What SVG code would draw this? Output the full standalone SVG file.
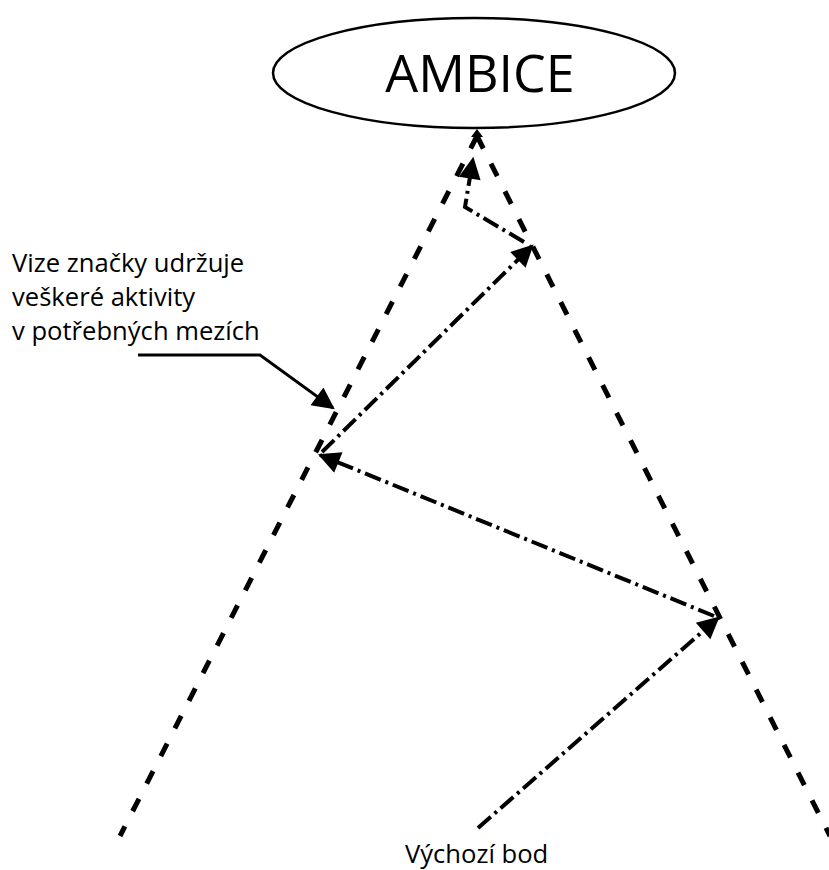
<svg xmlns="http://www.w3.org/2000/svg" width="829" height="870" viewBox="0 0 829 870">
<style>
.lbl{font-family:"Open Sans","Noto Sans","Liberation Sans",sans-serif;fill:#000;}
.bound{fill:none;stroke:#000;stroke-width:5;stroke-dasharray:14 17;}
.path{fill:none;stroke:#000;stroke-width:4;stroke-dasharray:17 5 3 5;}
.note{fill:none;stroke:#000;stroke-width:2.8;}
</style>
<defs>
<marker id="ah" viewBox="0 0 10 10" refX="9" refY="5" markerUnits="userSpaceOnUse" markerWidth="25" markerHeight="22" orient="auto">
<path d="M0,0 L10,5 L0,10 Z" fill="#000"/>
</marker>
</defs>
<rect width="829" height="870" fill="#fff"/>
<g id="ambice">
<ellipse cx="474" cy="73" rx="201" ry="55" fill="#fff" stroke="#000" stroke-width="2.5"/>
<text class="lbl" x="480" y="92" font-size="52" text-anchor="middle">AMBICE</text>
</g>
<g id="connectors">
<path class="bound" d="M477,136 L120,836"/>
<path class="bound" d="M477,136 L830,836"/>
<polygon points="477,129 471,137 483,137" fill="#000"/>
<path class="path" d="M478,828 L718,618" marker-end="url(#ah)"/>
<path class="path" d="M714,616 L320,455" marker-end="url(#ah)"/>
<path class="path" d="M322,452 L532,246" marker-end="url(#ah)"/>
<path class="path" d="M524,242 L465,207 L473,159" marker-end="url(#ah)"/>
<path class="note" d="M138,355 H260 L333,408" marker-end="url(#ah)"/>
</g>
<g id="note">
<text class="lbl" font-size="25.6"><tspan x="12" y="272">Vize značky udržuje</tspan><tspan x="12" y="306">veškeré aktivity</tspan><tspan x="12" y="340">v potřebných mezích</tspan></text>
</g>
<g id="start">
<text class="lbl" x="405" y="863" font-size="25.6">Výchozí bod</text>
</g>
</svg>
